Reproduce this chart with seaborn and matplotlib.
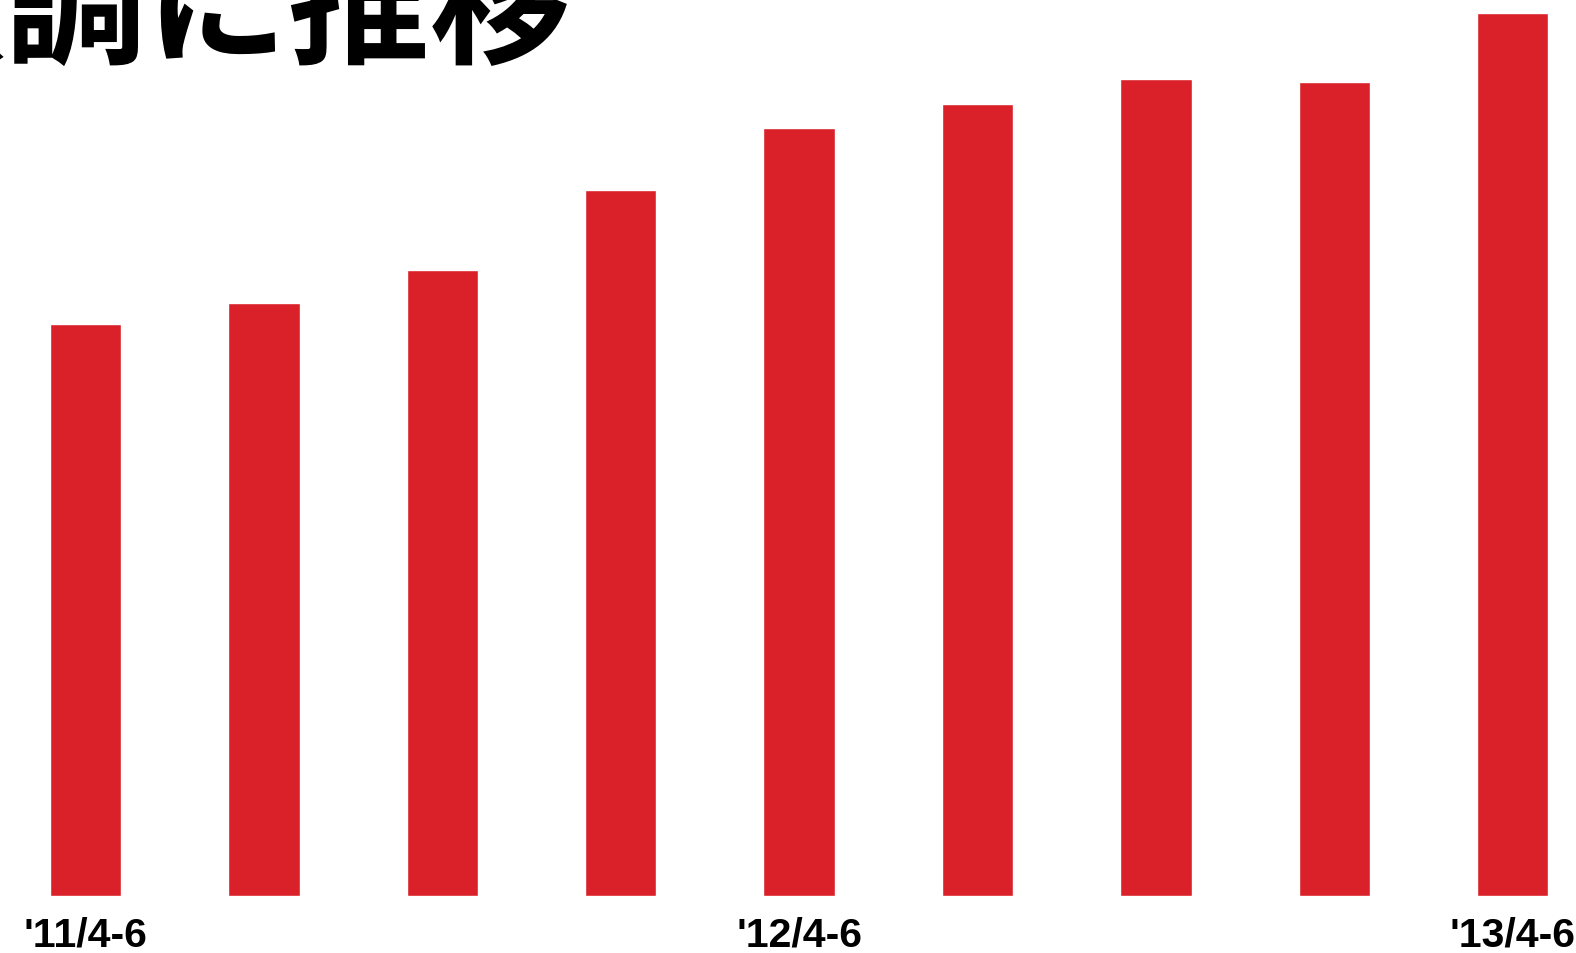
import matplotlib
matplotlib.use("Agg")
import matplotlib.pyplot as plt
import seaborn as sns
import pandas as pd

# quarterly values (arbitrary units)
quarters = ["'11/4-6", "'11/7-9", "'11/10-12", "'12/1-3", "'12/4-6",
            "'12/7-9", "'12/10-12", "'13/1-3", "'13/4-6"]
values = [572, 593, 626, 706, 768, 792, 817, 814, 883]
shown_ticks = ["'11/4-6", "'12/4-6", "'13/4-6"]
title = "順調に推移"

df = pd.DataFrame({"quarter": quarters, "value": values})

sns.set_theme(style="white")
plt.rcParams['font.family'] = ['Liberation Sans', 'DejaVu Sans']

fig = plt.figure(figsize=(15.76, 9.54), dpi=100)
ax = fig.add_axes([0, 57 / 954, 1, 897 / 954])

sns.barplot(data=df, x="quarter", y="value", color="#DA2028",
            saturation=1, width=0.4, ax=ax)

ax.set_xlim(-0.479, 8.355)
ax.set_ylim(0, 897)
ax.set_xlabel("")
ax.set_ylabel("")
ax.set_yticks([])
ticks = [quarters.index(t) for t in shown_ticks]
ax.set_xticks(ticks)
ax.set_xticklabels(shown_ticks, fontsize=29.5, fontweight="bold", color="black")
ax.tick_params(axis="x", length=0, pad=14)
for s in ax.spines.values():
    s.set_visible(False)

# title is partly cut off at the top-left, like in the source image
fig.text(-137 / 1576, 1 - 84 / 954, title, fontsize=102, fontweight="bold",
         color="black", family=["Noto Sans CJK JP", "DejaVu Sans"],
         ha="left", va="bottom")

fig.savefig("out.png", dpi=100, facecolor="white")
